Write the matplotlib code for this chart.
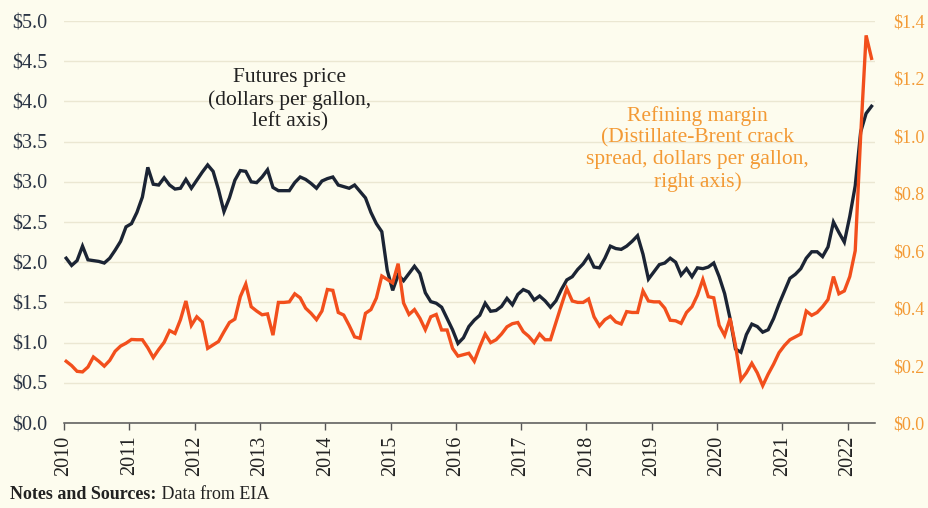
"""
Distillate futures price vs. refining margin (Distillate-Brent crack spread), 2010-2022
"""
import numpy as np
import matplotlib.pyplot as plt

plt.rcParams['font.family'] = ['Liberation Serif', 'DejaVu Serif']

# monthly values, Jan 2010 .. May 2022
futures_price = [
    2.05, 1.96, 2.02, 2.20, 2.03, 2.02, 2.01, 1.99, 2.05, 2.15, 2.26, 2.44,   # 2010
    2.48, 2.62, 2.81, 3.18, 2.97, 2.96, 3.05, 2.96, 2.91, 2.92, 3.03, 2.92,   # 2011
    3.02, 3.12, 3.21, 3.13, 2.90, 2.63, 2.80, 3.02, 3.14, 3.13, 3.00, 2.99,   # 2012
    3.06, 3.15, 2.93, 2.89, 2.89, 2.89, 2.99, 3.06, 3.03, 2.98, 2.92, 3.01,   # 2013
    3.04, 3.06, 2.96, 2.94, 2.92, 2.96, 2.88, 2.80, 2.62, 2.48, 2.38, 1.90,   # 2014
    1.65, 1.84, 1.77, 1.86, 1.95, 1.86, 1.62, 1.51, 1.49, 1.44, 1.30, 1.16,   # 2015
    0.99, 1.06, 1.20, 1.28, 1.34, 1.49, 1.39, 1.40, 1.45, 1.55, 1.47, 1.60,   # 2016
    1.66, 1.63, 1.53, 1.58, 1.52, 1.44, 1.52, 1.66, 1.78, 1.82, 1.91, 1.98,   # 2017
    2.08, 1.94, 1.93, 2.05, 2.20, 2.17, 2.16, 2.20, 2.26, 2.33, 2.10, 1.79,   # 2018
    1.88, 1.97, 1.99, 2.05, 2.00, 1.84, 1.92, 1.82, 1.93, 1.92, 1.94, 1.99,   # 2019
    1.82, 1.61, 1.30, 0.92, 0.88, 1.10, 1.23, 1.20, 1.13, 1.16, 1.30, 1.48,   # 2020
    1.64, 1.80, 1.85, 1.92, 2.05, 2.13, 2.13, 2.07, 2.19, 2.50, 2.37, 2.25,   # 2021
    2.57, 2.95, 3.62, 3.85, 3.94,                                             # 2022
]
refining_margin = [
    0.215, 0.200, 0.180, 0.178, 0.195, 0.230, 0.215, 0.198, 0.218, 0.250, 0.268, 0.278,
    0.291, 0.290, 0.290, 0.262, 0.228, 0.256, 0.281, 0.322, 0.312, 0.360, 0.425, 0.340,
    0.370, 0.352, 0.260, 0.272, 0.284, 0.318, 0.350, 0.362, 0.440, 0.484, 0.405, 0.390,
    0.377, 0.380, 0.306, 0.420, 0.420, 0.422, 0.450, 0.436, 0.400, 0.382, 0.360, 0.390,
    0.465, 0.462, 0.385, 0.376, 0.340, 0.300, 0.295, 0.382, 0.395, 0.435, 0.512, 0.500,
    0.488, 0.555, 0.418, 0.378, 0.395, 0.365, 0.325, 0.370, 0.378, 0.324, 0.324, 0.260,
    0.233, 0.238, 0.243, 0.215, 0.265, 0.310, 0.280, 0.290, 0.310, 0.335, 0.346, 0.350,
    0.318, 0.302, 0.280, 0.310, 0.290, 0.290, 0.350, 0.410, 0.468, 0.425, 0.420, 0.420,
    0.432, 0.370, 0.338, 0.360, 0.372, 0.352, 0.345, 0.388, 0.385, 0.385, 0.460, 0.425,
    0.422, 0.422, 0.400, 0.358, 0.356, 0.347, 0.385, 0.405, 0.445, 0.500, 0.440, 0.436,
    0.340, 0.305, 0.365, 0.270, 0.150, 0.175, 0.208, 0.175, 0.130, 0.170, 0.205, 0.245,
    0.270, 0.290, 0.300, 0.310, 0.390, 0.375, 0.385, 0.405, 0.430, 0.510, 0.450, 0.460,
    0.510, 0.600, 1.000, 1.350, 1.270,
]

year_ticks = list(range(2010, 2023))
left_ticks = [0.0, 0.5, 1.0, 1.5, 2.0, 2.5, 3.0, 3.5, 4.0, 4.5, 5.0]
right_ticks = [0.0, 0.2, 0.4, 0.6, 0.8, 1.0, 1.2, 1.4]

BG = '#fdfcee'
NAVY = '#1b2434'
RED = '#f24f1c'
ORANGE = '#f39a35'

# monthly points, placed a little into each month
t = 2010 + (np.arange(len(futures_price)) + 0.4) / 12

fig = plt.figure(figsize=(9.29, 5.08), dpi=100, facecolor=BG)
ax = fig.add_axes([0.0689, 0.1673, 0.873, 0.7913])
ax.set_facecolor(BG)
ax2 = ax.twinx()

ax.plot(t, futures_price, color=NAVY, linewidth=2.4, solid_joinstyle='miter')
ax2.plot(t, refining_margin, color=RED, linewidth=2.4, solid_joinstyle='miter')

ax.set_xlim(2010, 2022.42)
ax.set_ylim(0, 5.0)
ax2.set_ylim(0, 1.4)

ax.set_yticks(left_ticks)
ax.set_yticklabels([f"${v:.1f}" for v in left_ticks], fontsize=14.5, color='#2a3444')
ax2.set_yticks(right_ticks)
ax2.set_yticklabels([f"${v:.1f}" for v in right_ticks], fontsize=13, color=ORANGE)
ax.set_xticks(year_ticks)
ax.set_xticklabels([str(y) for y in year_ticks], rotation=90, fontsize=14.5, color='#222222')

ax.tick_params(axis='y', length=0, pad=12)
ax2.tick_params(axis='y', length=0, pad=13)
ax.tick_params(axis='x', length=5, width=1, color='#555555', pad=4)

for a in (ax, ax2):
    for s in ('top', 'left', 'right', 'bottom'):
        a.spines[s].set_visible(False)
ax.spines['bottom'].set_visible(True)
ax.spines['bottom'].set_color('#555555')
ax.spines['bottom'].set_linewidth(1.1)

ax.grid(axis='y', color='#ebe7d2', linewidth=1.0)
ax.set_axisbelow(True)

ax.text(2013.46, 4.02, "Futures price\n(dollars per gallon,\nleft axis)",
        ha='center', va='center', fontsize=15.5, color='#222222', linespacing=1.2)
ax.text(2019.70, 3.41, "Refining margin\n(Distillate-Brent crack\nspread, dollars per gallon,\nright axis)",
        ha='center', va='center', fontsize=15.5, color=ORANGE, linespacing=1.2)

note = fig.text(0.011, 0.01, "Notes and Sources:", fontsize=13, fontweight='bold',
                color='#222222', ha='left', va='bottom')
ax.annotate(" Data from EIA", xy=(1, 0), xycoords=note, fontsize=13, color='#222222',
            ha='left', va='bottom', annotation_clip=False)

fig.savefig("out.png", dpi=100, facecolor=BG)
